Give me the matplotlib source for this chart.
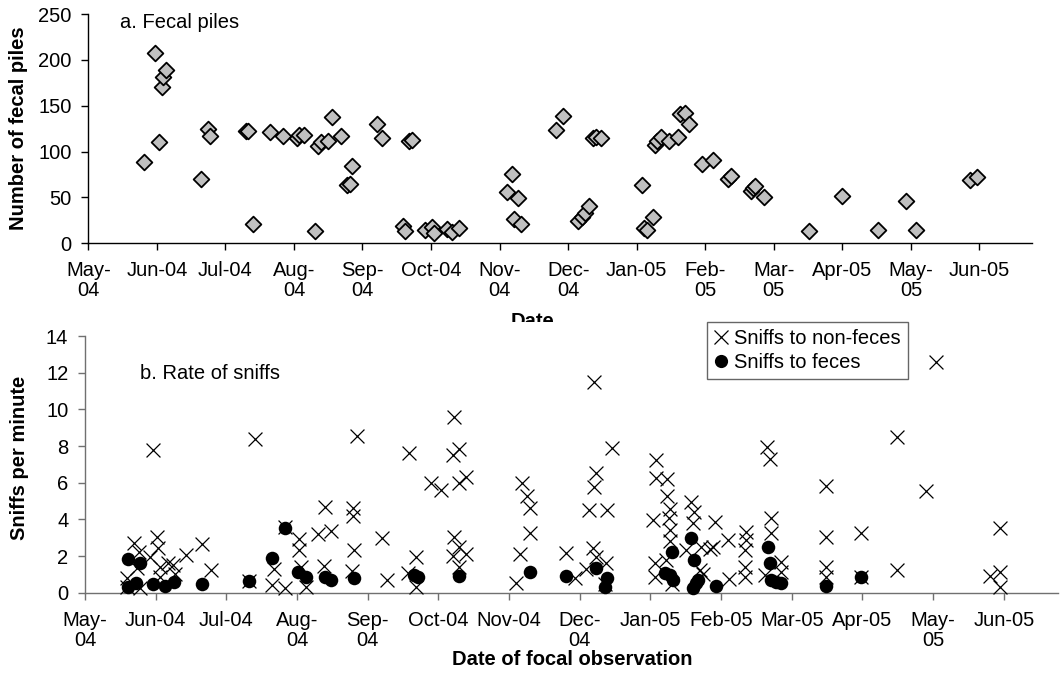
import matplotlib
matplotlib.use('Agg')
import matplotlib.pyplot as plt
from matplotlib.patches import Rectangle
from matplotlib.lines import Line2D

plt.rcParams['font.family'] = ['Liberation Sans', 'DejaVu Sans']

# ---------------- data ----------------
# x values: days since the first axis tick (May-04); ticks every 30 days
tick_days = [0, 30, 60, 90, 120, 150, 180, 210, 240, 270, 300, 330, 360, 390]
top_tick_labels = ['May-\n04', 'Jun-04', 'Jul-04', 'Aug-\n04', 'Sep-\n04', 'Oct-04', 'Nov-\n04',
                   'Dec-\n04', 'Jan-05', 'Feb-\n05', 'Mar-\n05', 'Apr-05', 'May-\n05', 'Jun-05']
bottom_tick_labels = ['May-\n04', 'Jun-04', 'Jul-04', 'Aug-\n04', 'Sep-\n04', 'Oct-04', 'Nov-04',
                      'Dec-\n04', 'Jan-05', 'Feb-05', 'Mar-05', 'Apr-05', 'May-\n05', 'Jun-05']

pile_day = [24.4, 29.2, 30.9, 32.1, 32.8, 34.0, 49.5, 52.5, 53.4, 69.0, 70.0, 71.9, 79.5, 85.3,
            91.2, 92.2, 94.2, 99.1, 100.7, 101.8, 105.0, 106.8, 110.6, 113.1, 114.5, 115.5,
            126.2, 128.4, 137.6, 138.7, 140.5, 141.5, 147.3, 150.3, 151.4, 157.1, 159.2, 162.1,
            183.1, 185.4, 186.4, 188.2, 189.3, 204.7, 207.6, 214.2, 215.9, 217.2, 219.1, 220.7,
            222.2, 224.2, 242.4, 243.3, 244.3, 247.2, 248.1, 249.1, 250.5, 254.2, 258.2, 258.9,
            261.0, 263.0, 268.7, 273.5, 280.1, 281.2, 289.9, 290.7, 291.8, 295.8, 315.4, 329.7,
            345.4, 357.8, 362.1, 385.8, 389.1]
pile_count = [89, 208, 110, 170, 181, 189, 70, 125, 117, 122, 122, 21, 121, 117,
              115, 118, 118, 13, 106, 110, 112, 138, 117, 64, 65, 84,
              130, 115, 19, 13, 112, 113, 15, 18, 11, 16, 12, 17,
              56, 76, 27, 49, 21, 123, 139, 24, 29, 33, 41, 115,
              116, 115, 64, 17, 15, 29, 107, 111, 116, 111, 116, 141,
              142, 130, 87, 91, 70, 73, 57, 60, 63, 50, 13, 52,
              15, 46, 14, 69, 72]

nonfeces_day = [17.7, 17.7, 20.8, 21.9, 22.9, 23.3, 27.6, 29.0, 30.7, 30.8, 31.8, 31.8, 35.3,
                37.5, 38.2, 42.8, 49.5, 53.3,
                72.3, 69.7, 79.4, 80.3, 85.0, 85.0, 90.9, 90.9, 91.5, 94.0, 98.7, 101.8, 104.6,
                101.5, 113.6, 113.9, 114.2, 113.4, 115.3, 125.9, 128.0,
                137.6, 140.4, 137.2, 140.7, 147.0, 151.0, 156.5, 158.8, 156.2, 161.6, 158.8,
                156.5, 158.8, 156.2, 161.9, 158.8,
                185.7, 187.6, 188.8, 188.8, 184.8, 182.8, 204.0,
                207.9, 215.9, 223.8, 216.7, 215.9, 213.9, 221.6, 215.7, 217.1, 221.3, 212.8, 220.6,
                242.2, 242.2, 247.0, 247.0, 248.2, 241.1, 247.8, 248.2, 248.5, 241.8, 241.8, 246.7,
                249.0, 257.4, 258.7, 258.0, 261.6, 266.5, 267.3, 255.3, 260.9, 262.3,
                272.9, 265.1, 280.7, 280.7, 280.0, 280.0, 280.0, 273.3, 289.4, 290.6, 291.3, 291.3,
                295.5, 295.5, 288.5,
                314.6, 314.6, 314.6, 314.6, 329.5, 329.2, 344.8, 344.8, 357.0, 361.3, 388.2, 388.2,
                384.0, 388.2]
nonfeces_rate = [0.78, 0.33, 2.73, 1.33, 2.24, 0.24, 1.96, 7.8, 3.05, 2.42, 1.42, 0.87, 1.6,
                 1.51, 1.0, 2.04, 2.64, 1.24,
                 8.37, 0.64, 0.42, 1.28, 0.27, 3.6, 2.95, 2.33, 1.42, 0.3, 3.22, 4.69, 3.38,
                 1.46, 4.6, 4.2, 2.33, 1.2, 8.55, 2.98, 0.67,
                 7.6, 1.93, 1.1, 0.33, 5.97, 5.6, 9.6, 7.82, 7.51, 6.33, 5.97,
                 3.06, 2.51, 2.0, 2.11, 1.42,
                 5.97, 5.29, 4.6, 3.27, 2.11, 0.51, 2.18,
                 0.78, 11.48, 7.88, 6.51, 5.78, 4.51, 4.51, 2.42, 1.96, 1.64, 1.28, 0.5,
                 7.24, 6.24, 6.19, 5.29, 4.57, 3.97, 4.06, 3.42, 2.8, 1.6, 0.87, 1.78,
                 0.5, 4.97, 4.42, 3.79, 2.51, 2.51, 3.87, 2.33, 1.24, 1.0,
                 2.88, 2.4, 3.33, 2.88, 2.33, 1.42, 0.87, 0.73, 7.97, 7.28, 4.09, 3.24,
                 1.69, 1.15, 0.97,
                 5.82, 3.06, 1.42, 0.85, 3.24, 0.84, 8.51, 1.24, 5.55, 12.57, 3.51, 1.15,
                 0.91, 0.33]

feces_day = [18.1, 23.3, 18.4, 21.6, 29.0, 33.9, 37.8, 49.5, 69.7, 79.4, 85.0, 90.5, 94.0,
             101.8, 104.6, 114.2, 139.8, 141.5, 158.8, 188.8, 204.0, 216.7, 221.6, 220.6,
             246.0, 248.2, 249.6, 249.0, 257.4, 258.5, 259.5, 258.0, 260.1, 268.0,
             289.9, 290.6, 291.3, 293.4, 295.5, 314.6, 329.2]
feces_rate = [1.82, 1.64, 0.33, 0.51, 0.46, 0.37, 0.58, 0.46, 0.64, 1.91, 3.55, 1.15, 0.87,
              0.88, 0.69, 0.78, 0.97, 0.87, 0.91, 1.11, 0.93, 1.33, 0.78, 0.29,
              1.06, 0.97, 0.69, 2.24, 2.97, 1.78, 0.51, 0.24, 0.69, 0.37,
              2.51, 1.64, 0.69, 0.6, 0.55, 0.37, 0.84]

# ---------------- figure ----------------
W, H = 1061, 676
fig = plt.figure(figsize=(W / 100, H / 100), dpi=100)

def fx(px):
    return px / W

def fy(py):
    return 1 - py / H

FS = 14.5

ax1 = fig.add_axes([fx(88.3), fy(243.3), fx(1032) - fx(88.3), fy(14) - fy(243.3)])
ax2 = fig.add_axes([fx(85), fy(592.7), fx(1058) - fx(85), fy(336) - fy(592.7)])
ax1.set_zorder(0)
ax2.set_zorder(2)

xmax = 413

def style(ax, color):
    for s in ['top', 'right']:
        ax.spines[s].set_visible(False)
    for s in ['left', 'bottom']:
        ax.spines[s].set_color(color)
        ax.spines[s].set_linewidth(1.0)
    ax.tick_params(axis='both', direction='out', length=5, width=1.0, color=color,
                   labelsize=FS, labelcolor='black')
    ax.tick_params(axis='x', pad=8)
    ax.tick_params(axis='y', pad=7)
    ax.set_xlim(0, xmax)
    ax.set_xticks(tick_days)
    for lab in ax.get_xticklabels():
        lab.set_linespacing(1.05)

# top panel
ax1.scatter(pile_day, pile_count, marker='D', s=64, facecolor='#c0c0c0',
            edgecolor='black', linewidths=1.3, zorder=3, clip_on=False)
ax1.set_ylim(0, 250)
ax1.set_yticks([0, 50, 100, 150, 200, 250])
style(ax1, 'black')
ax1.set_xticklabels(top_tick_labels, linespacing=1.05)
ax1.set_ylabel('Number of fecal piles', fontsize=FS, fontweight='bold')
ax1.yaxis.set_label_coords(-0.064, 0.5)

# bottom panel
ax2.scatter(nonfeces_day, nonfeces_rate, marker='x', s=100, color='black',
            linewidths=0.9, zorder=3, clip_on=False, label='Sniffs to non-feces')
ax2.scatter(feces_day, feces_rate, marker='o', s=95, color='black',
            linewidths=0, zorder=4, clip_on=False, label='Sniffs to feces')
ax2.set_ylim(0, 14)
ax2.set_yticks([0, 2, 4, 6, 8, 10, 12, 14])
style(ax2, '#707070')
ax2.set_xticklabels(bottom_tick_labels, linespacing=1.05)
ax2.set_ylabel('Sniffs per minute', fontsize=FS, fontweight='bold')
ax2.yaxis.set_label_coords(-0.058, 0.525)
ax2.set_xlabel('Date of focal observation', fontsize=FS, fontweight='bold')
ax2.xaxis.set_label_coords(0.5005, -0.222)

handles = [Line2D([], [], marker='x', ls='none', color='black', markersize=10, markeredgewidth=0.9),
           Line2D([], [], marker='o', ls='none', color='black', markersize=9.5, markeredgewidth=0)]
leg = ax2.legend(handles, ['Sniffs to non-feces', 'Sniffs to feces'], loc='upper left',
                 bbox_to_anchor=(fx(707.3), fy(321.7)), bbox_transform=fig.transFigure,
                 borderaxespad=0, fontsize=FS, frameon=True, fancybox=False,
                 handlelength=0.7, handletextpad=0.3, borderpad=0.35, labelspacing=0.25)
leg.get_frame().set_edgecolor('#404040')
leg.get_frame().set_linewidth(1.0)

# panel titles
fig.text(fx(120), fy(28), 'a. Fecal piles', fontsize=FS, va='baseline', ha='left')
fig.text(fx(140), fy(379), 'b. Rate of sniffs', fontsize=FS, va='baseline', ha='left')

# top x-axis title, partly hidden beneath the lower chart area
fig.text(fx(533), fy(312), 'Date', fontsize=FS, fontweight='bold', va='top', ha='center', zorder=0.5)
fig.patches.append(Rectangle((0, 0), 1, fy(322), transform=fig.transFigure,
                             facecolor='white', edgecolor='none', zorder=1))

fig.savefig('out.png', dpi=100)
